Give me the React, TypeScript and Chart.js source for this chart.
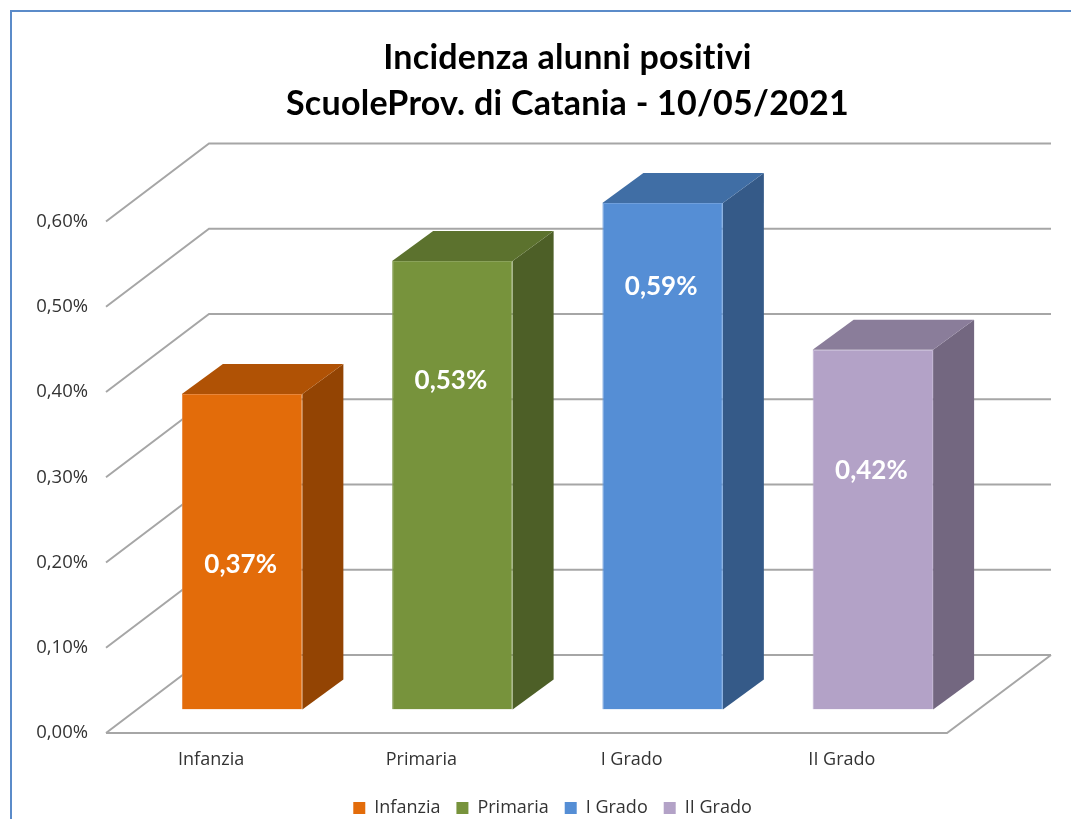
import React, { useEffect, useRef } from "react";
import { Chart, registerables } from "chart.js";

Chart.register(...registerables);

const categories = ["Infanzia", "Primaria", "I Grado", "II Grado"];
const incidence = [0.37, 0.526, 0.594, 0.422];
const yTicks = [0, 0.1, 0.2, 0.3, 0.4, 0.5, 0.6];
const titleLines = ["Incidenza alunni positivi", "ScuoleProv. di Catania - 10/05/2021"];
const frontColors = ["#e36c0a", "#77933c", "#558ed5", "#b3a2c7"];
const sideColors = ["#934403", "#4d5f27", "#355a88", "#736780"];
const topColors = ["#b05205", "#5c722e", "#406ea5", "#8a7d9a"];
const edgeColors = ["#e8863a", "#8aa25a", "#6f9fdc", "#bdaed0"];
// where each value label sits, as a share of its bar's height measured from the top
const labelDepths = [0.54, 0.266, 0.164, 0.337];

const GRID = "#a6a6a6";
const TICK_COLOR = "#333333";
const TICK_FONT = "'Open Sans', sans-serif";

const fmt = (v: number) => v.toFixed(2).replace(".", ",") + "%";

const poly = (ctx: CanvasRenderingContext2D, pts: number[][], fill: string) => {
  ctx.beginPath();
  pts.forEach(([x, y], i) => (i ? ctx.lineTo(x, y) : ctx.moveTo(x, y)));
  ctx.closePath();
  ctx.fillStyle = fill;
  ctx.fill();
};

const withSpacing = (box: any, spacing: string) => {
  const draw = box.draw.bind(box);
  box.draw = (...args: any[]) => {
    const ctx = box.ctx as any;
    const prev = ctx.letterSpacing;
    ctx.letterSpacing = spacing;
    draw(...args);
    ctx.letterSpacing = prev;
  };
};

const scene3d = {
  id: "scene3d",
  afterLayout(chart: any) {
    chart.titleBlock.left += 94;
    chart.titleBlock.right += 94;
    chart.legend.left += 79;
    chart.legend.right += 79;
    chart.legend.top += 8;
    chart.legend.bottom += 8;
    if (!chart.$spaced) {
      withSpacing(chart.titleBlock, "0.25px");
      chart.$spaced = true;
    }
  },
  beforeDatasetsDraw(chart: any) {
    const { ctx, scales, chartArea } = chart;
    const y = scales.y;
    const bdx = 103, bdy = -78;
    const endX = chartArea.right + bdx + 1;
    ctx.save();
    ctx.strokeStyle = GRID;
    ctx.lineWidth = 2;
    ctx.lineJoin = "miter";
    yTicks.forEach((t) => {
      const py = y.getPixelForValue(t);
      ctx.beginPath();
      ctx.moveTo(chartArea.left, py);
      ctx.lineTo(chartArea.left + bdx, py + bdy);
      ctx.lineTo(endX, py + bdy);
      ctx.stroke();
    });
    const y0 = y.getPixelForValue(0);
    ctx.beginPath();
    ctx.moveTo(chartArea.left, y0);
    ctx.lineTo(chartArea.right, y0);
    ctx.lineTo(endX, y0 + bdy);
    ctx.stroke();
    ctx.restore();

    ctx.save();
    ctx.translate(31, -23.5);
    const dx = 41, dy = -30;
    chart.getDatasetMeta(0).data.forEach((bar: any, i: number) => {
      const l = bar.x - bar.width / 2, r = bar.x + bar.width / 2;
      poly(ctx, [[r, bar.y], [r + dx, bar.y + dy], [r + dx, bar.base + dy], [r, bar.base]], sideColors[i]);
      poly(ctx, [[l, bar.y], [l + dx, bar.y + dy], [r + dx, bar.y + dy], [r, bar.y]], topColors[i]);
    });
  },
  afterDatasetsDraw(chart: any) {
    const { ctx } = chart;
    ctx.restore();
    ctx.save();
    ctx.font = "bold 26px Lato, sans-serif";
    ctx.fillStyle = "#ffffff";
    ctx.textAlign = "center";
    ctx.textBaseline = "middle";
    chart.getDatasetMeta(0).data.forEach((bar: any, i: number) => {
      const h = bar.base - bar.y;
      ctx.fillText(fmt(incidence[i]), bar.x + 29.5, bar.y - 23.5 + h * labelDepths[i]);
    });
    ctx.restore();
  },
};

export default function App() {
  const ref = useRef<HTMLCanvasElement>(null);
  useEffect(() => {
    const chart = new Chart(ref.current!, {
      type: "bar",
      plugins: [scene3d],
      data: {
        labels: categories,
        datasets: [
          {
            data: incidence,
            backgroundColor: frontColors,
            borderColor: edgeColors,
            borderWidth: 1,
            barPercentage: 1,
            categoryPercentage: 0.573,
          },
        ],
      },
      options: {
        responsive: false,
        animation: false,
        layout: { padding: { left: 0, right: 124, top: 0, bottom: 0 } },
        plugins: {
          tooltip: { enabled: false },
          title: {
            display: true,
            text: titleLines,
            color: "#000000",
            font: { family: "Lato, sans-serif", size: 34, weight: "bold", lineHeight: 46 / 34 },
            padding: { top: 35, bottom: 94.5 },
          },
          legend: {
            display: true,
            position: "bottom",
            labels: {
              color: TICK_COLOR,
              font: { family: TICK_FONT, size: 18 },
              boxWidth: 12,
              boxHeight: 12,
              padding: 16,
              generateLabels: () =>
                categories.map((c, i) => ({
                  text: c,
                  fillStyle: frontColors[i],
                  strokeStyle: frontColors[i],
                  lineWidth: 0,
                  hidden: false,
                  index: i,
                  fontColor: TICK_COLOR,
                })),
            },
          },
        },
        scales: {
          x: {
            grid: { display: false, drawTicks: false },
            border: { display: false },
            ticks: {
              color: TICK_COLOR,
              font: { family: TICK_FONT, size: 18 },
              padding: 16,
              maxRotation: 0,
              autoSkip: false,
            },
            afterFit: (s: any) => {
              s.height = 42;
            },
          },
          y: {
            min: 0,
            max: 0.6,
            grid: { display: false, drawTicks: false },
            border: { display: false },
            ticks: {
              stepSize: 0.1,
              color: TICK_COLOR,
              font: { family: TICK_FONT, size: 18.5 },
              padding: 18,
              callback: (v: any) => fmt(Number(v)),
            },
            afterFit: (s: any) => {
              s.width = 106;
            },
          },
        },
      },
    } as any);
    return () => chart.destroy();
  }, []);
  return (
    <div style={{ position: "fixed", inset: 0, overflow: "hidden", background: "#ffffff" }}>
      <div
        style={{
          position: "absolute",
          left: 10,
          top: 10,
          width: 1200,
          height: 1000,
          border: "2px solid #5b8bc9",
        }}
      />
      <canvas
        ref={ref}
        width={1071}
        height={819}
        style={{ position: "absolute", left: 0, top: 0, filter: "blur(0.4px)" }}
      />
    </div>
  );
}
